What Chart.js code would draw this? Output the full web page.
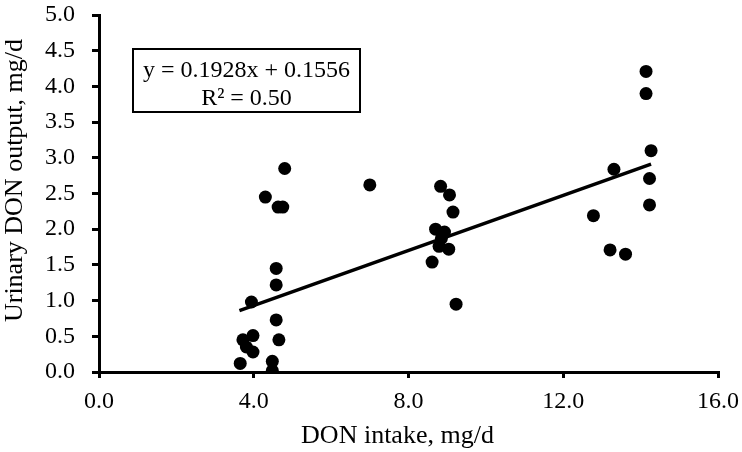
<!DOCTYPE html>
<html>
<head>
<meta charset="utf-8">
<script src="https://cdn.jsdelivr.net/npm/chart.js@4"></script>
<style>
  html, body { margin: 0; padding: 0; background: #fff; }
  #wrap { width: 742px; height: 452px; position: relative; }
</style>
</head>
<body>
<div id="wrap"><canvas id="c" width="742" height="452"></canvas></div>
<script>
// DON intake (mg/d) for each observation
const intake = [
  4.80, 4.30, 4.63, 4.75, 4.58, 4.58, 3.94, 4.58, 4.65, 3.72, 3.98, 3.81, 3.98, 3.65, 4.48, 4.48,
  7.00, 8.83, 9.06, 9.15, 8.70, 8.93, 8.85, 8.79, 9.04, 8.61, 9.23,
  14.14, 14.14, 14.27, 13.31, 14.23, 14.23, 12.78, 13.21, 13.61
];
// Urinary DON output (mg/d) for each observation
const output = [
  2.85, 2.45, 2.31, 2.31, 1.45, 1.22, 0.98, 0.73, 0.45, 0.45, 0.51, 0.35, 0.28, 0.12, 0.15, 0.02,
  2.62, 2.60, 2.48, 2.24, 2.00, 1.96, 1.87, 1.76, 1.72, 1.54, 0.95,
  4.21, 3.90, 3.10, 2.84, 2.71, 2.34, 2.19, 1.71, 1.65
];
// Trend line end points
const trendX = [3.63, 14.27];
const trendY = [0.86, 2.91];
const xTicks = [0, 4, 8, 12, 16];
const yTicks = [0, 0.5, 1, 1.5, 2, 2.5, 3, 3.5, 4, 4.5, 5];
const eqLines = ["y = 0.1928x + 0.1556", "R\u00B2 = 0.50"];
const xTitle = "DON intake, mg/d";
const yTitle = "Urinary DON output, mg/d";

const FONT = "'Liberation Serif', 'Times New Roman', serif";

const annotations = {
  id: 'annotations',
  afterDraw(chart) {
    const ctx = chart.ctx;
    const a = chart.chartArea;
    ctx.save();
    // equation box
    const left = a.left + 34, top = a.top + 34, w = 227, h = 63;
    ctx.fillStyle = '#fff';
    ctx.fillRect(left, top, w, h);
    ctx.strokeStyle = '#000';
    ctx.lineWidth = 2;
    ctx.strokeRect(left, top, w, h);
    ctx.fillStyle = '#000';
    ctx.font = "24px " + FONT;
    ctx.textAlign = 'center';
    ctx.textBaseline = 'alphabetic';
    ctx.fillText(eqLines[0], left + w / 2, top + 28);
    ctx.fillText(eqLines[1], left + w / 2, top + 56);
    // axis titles
    ctx.font = "26px " + FONT;
    ctx.fillText(xTitle, (a.left + a.right) / 2 - 11, a.bottom + 71);
    ctx.translate(22, (a.top + a.bottom) / 2 - 13);
    ctx.rotate(-Math.PI / 2);
    ctx.fillText(yTitle, 0, 0);
    ctx.restore();
  }
};

new Chart(document.getElementById('c'), {
  type: 'scatter',
  data: {
    datasets: [
      {
        type: 'line',
        data: trendX.map((x, i) => ({ x: x, y: trendY[i] })),
        borderColor: '#000',
        borderWidth: 3.5,
        pointRadius: 0,
        fill: false,
        order: 2
      },
      {
        data: intake.map((x, i) => ({ x: x, y: output[i] })),
        backgroundColor: '#000',
        borderColor: '#000',
        borderWidth: 0,
        pointRadius: 6.5,
        order: 1
      }
    ]
  },
  options: {
    responsive: false,
    animation: false,
    devicePixelRatio: 1,
    layout: { padding: { top: 15, right: 24, left: 0, bottom: 0 } },
    plugins: { legend: { display: false }, tooltip: { enabled: false } },
    scales: {
      x: {
        type: 'linear',
        min: 0, max: 16,
        afterBuildTicks(s) { s.ticks = xTicks.map(v => ({ value: v })); },
        afterFit(s) { s.height = 80; s.paddingLeft = 0; s.paddingRight = 0; },
        ticks: {
          color: '#000',
          font: { family: FONT, size: 24 },
          padding: 9,
          maxRotation: 0,
          callback: v => v.toFixed(1)
        },
        grid: { drawOnChartArea: false, drawTicks: true, tickLength: 6, color: '#000', lineWidth: 3 },
        border: { display: true, color: '#000', width: 3 },
        title: { display: false, text: xTitle }
      },
      y: {
        type: 'linear',
        min: 0, max: 5,
        afterBuildTicks(s) { s.ticks = yTicks.map(v => ({ value: v })); },
        afterFit(s) { s.width = 99; s.paddingTop = 0; s.paddingBottom = 0; },
        ticks: {
          color: '#000',
          font: { family: FONT, size: 24 },
          padding: 17,
          callback: v => v.toFixed(1)
        },
        grid: { drawOnChartArea: false, drawTicks: true, tickLength: 7, color: '#000', lineWidth: 3 },
        border: { display: true, color: '#000', width: 3 },
        title: { display: false, text: yTitle }
      }
    }
  },
  plugins: [annotations]
});
</script>
</body>
</html>
